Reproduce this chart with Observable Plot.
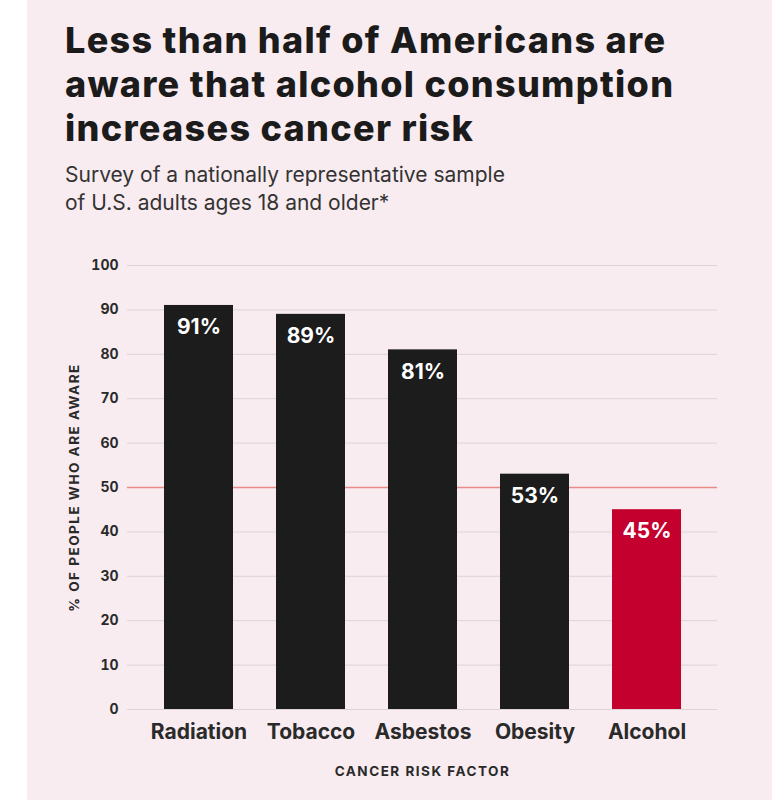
<!DOCTYPE html>
<html>
<head>
<meta charset="utf-8">
<script src="https://cdn.jsdelivr.net/npm/d3@7"></script>
<script src="https://cdn.jsdelivr.net/npm/@observablehq/plot@0.6"></script>
<style>
  html, body { margin: 0; padding: 0; background: #ffffff; }
  #panel { position: absolute; left: 27px; top: 0; width: 745px; height: 800px; background: #f9ecf0; font-family: Inter, "Noto Sans", sans-serif; }
  #title { position: absolute; left: 38px; top: 18px; margin: 0; font-size: 36px; line-height: 44px; font-weight: 800; color: #1b1b1b; letter-spacing: 1.3px; }
  #subtitle { position: absolute; left: 38px; top: 161px; margin: 0; font-size: 21px; line-height: 28px; font-weight: 400; color: #333; }
  #chart { position: absolute; left: 0; top: 230px; }
  g[aria-label="x-axis label"] text, g[aria-label="y-axis label"] text { letter-spacing: 1.5px; }
</style>
</head>
<body>
<div id="panel">
  <div id="title">Less than half of Americans are<br>aware that alcohol consumption<br>increases cancer risk</div>
  <div id="subtitle">Survey of a nationally representative sample<br>of U.S. adults ages 18 and older*</div>
  <div id="chart"></div>
</div>
<script>
const categories = ["Radiation", "Tobacco", "Asbestos", "Obesity", "Alcohol"];
const values = [91, 89, 81, 53, 45];
const highlight = "Alcohol";
const yTicks = [0, 10, 20, 30, 40, 60, 70, 80, 90, 100];
const yTickLabels = [0, 10, 20, 30, 40, 50, 60, 70, 80, 90, 100];
const refLine = [50];

const data = categories.map((c, i) => ({category: c, value: values[i]}));

const chart = Plot.plot({
  width: 745,
  height: 570,
  marginTop: 35,
  marginBottom: 91,
  marginLeft: 100,
  marginRight: 55,
  style: {background: "transparent", fontFamily: "Inter, 'Noto Sans', sans-serif", color: "#2a2a2a"},
  x: {domain: categories, paddingInner: 0.387, paddingOuter: 0.316, label: "CANCER RISK FACTOR"},
  y: {domain: [0, 100], label: "% OF PEOPLE WHO ARE AWARE"},
  marks: [
    Plot.ruleY(yTicks, {stroke: "#ddd3d7", strokeWidth: 1}),
    Plot.ruleY(refLine, {stroke: "#e88a86", strokeWidth: 1.5}),
    Plot.barY(data, {x: "category", y: "value", fill: d => d.category === highlight ? "#c4002f" : "#1c1c1c"}),
    Plot.text(data, {x: "category", y: "value", text: d => d.value + "%", dy: 22, fill: "white", fontSize: 21, fontWeight: 700}),
    Plot.axisY({ticks: yTickLabels, tickSize: 0, tickPadding: 9, fontSize: 14, fontWeight: 700, label: "% OF PEOPLE WHO ARE AWARE", labelAnchor: "center", labelArrow: "none", labelOffset: 58}),
    Plot.axisX({tickSize: 0, tickPadding: 15, fontSize: 21, fontWeight: 700, label: "CANCER RISK FACTOR", labelAnchor: "center", labelArrow: "none", labelOffset: 66})
  ]
});
document.getElementById("chart").appendChild(chart);
chart.querySelectorAll('g[aria-label="x-axis label"] text, g[aria-label="y-axis label"] text').forEach(t => {
  t.setAttribute("font-size", "13.5");
  t.setAttribute("font-weight", "700");
});
</script>
</body>
</html>
